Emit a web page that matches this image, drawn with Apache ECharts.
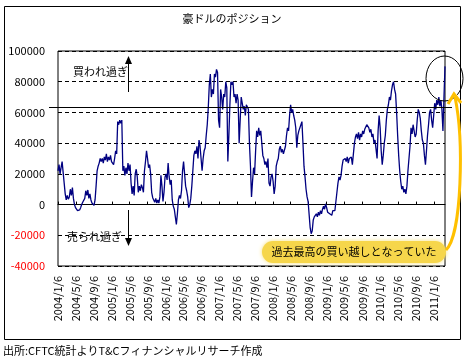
<!DOCTYPE html>
<html><head><meta charset="utf-8">
<script src="https://cdn.jsdelivr.net/npm/echarts@6/dist/echarts.min.js"></script>
<style>html,body{margin:0;padding:0;background:#fff}#c{width:467px;height:360px}</style>
</head><body><div id="c"></div>
<script>
// Weekly CFTC net positions (AUD), first week 2004/1/6
const pos2004 = [22000,26000,20000,24000,28000,21000,14000,7000,3000,6000,3500,5000,10000,6000,11000,4000,0,-2000,-1000,-4000,-5000,-3500,-2000,0,1500,1000,4000,9000,6000,9500,4000,7000,3000,1000,500,-500,3000,12000,22000,25000,27000,30000,28000,30000,27000,31000,29000,33000,28000,31000,29000,32000];
const pos2005 = [28000,29000,26000,30000,35000,33000,54000,52000,55000,53000,55000,22000,25000,19000,24000,20000,27000,22000,26000,14000,7000,12000,6000,20000,23000,18000,8000,12000,9000,13000,11000,8000,22000,28000,35000,30000,24000,26000,20000,8000,4500,3000,1500,4000,1000,3000,1000,5000,19000,12000,2000,8000];
const pos2006 = [18000,20000,16000,27000,18000,13000,16000,3000,-1000,-3000,-8000,-13000,-6000,3000,6000,4000,9000,22000,28000,20000,12000,9000,5000,-2000,0,4000,12000,22000,32000,35000,33000,38000,30000,42000,38000,30000,22000,30000,35000,37000,45000,52000,63000,78000,85000,70000,75000,72000,85000,83000,88000,86000];
const pos2007 = [55000,50000,75000,70000,62000,72000,70000,80000,76000,28000,45000,65000,80000,78000,80000,70000,72000,66000,72000,68000,40000,55000,70000,66000,62000,64000,58000,65000,66000,62000,40000,25000,5000,15000,24000,20000,35000,48000,44000,50000,45000,48000,40000,32000,30000,26000,28000,24000,30000,14000,12000,18000];
const pos2008 = [20000,15000,7000,12000,25000,28000,30000,36000,38000,34000,36000,33000,34000,38000,45000,50000,48000,58000,65000,60000,62000,58000,55000,50000,37000,45000,48000,47000,52000,54000,40000,25000,18000,10000,5000,2000,1000,-15000,-19000,-17000,-10000,-8000,-9000,-6000,-8000,-5000,-7000,-4000,-6000,-3000,-1000,-3000,500];
const pos2009 = [-2000,-5000,-4000,-6000,-5000,-7000,-4000,-3000,-4000,2000,8000,14000,18000,16000,19000,25000,29000,28000,30000,28000,31000,27000,30000,29000,31000,26000,33000,40000,44000,46000,43000,47000,42000,46000,44000,48000,46000,49000,50000,52000,53000,50000,47000,49000,44000,46000,40000,42000,36000,30000,48000,58000];
const pos2010 = [50000,35000,26000,32000,40000,45000,55000,62000,65000,70000,68000,74000,78000,80000,75000,72000,60000,45000,32000,22000,15000,10000,12000,8000,10000,7000,12000,22000,30000,38000,50000,46000,52000,48000,44000,46000,55000,62000,60000,56000,48000,42000,40000,32000,26000,35000,45000,52000,60000,62000,55000,50000];
const pos2011 = [58000,66000,62000,68000,65000,70000,64000,68000,62000,48000,70000,90000];

const tickLabels = ['2004/1/6','2004/5/6','2004/9/6','2005/1/6','2005/5/6','2005/9/6','2006/1/6','2006/5/6','2006/9/6','2007/1/6','2007/5/6','2007/9/6','2008/1/6','2008/5/6','2008/9/6','2009/1/6','2009/5/6','2009/9/6','2010/1/6','2010/5/6','2010/9/6','2011/1/6'];
const yMin = -40000, yMax = 100000, yStep = 20000;
const formerHigh = 63500;

const values = [].concat(pos2004,pos2005,pos2006,pos2007,pos2008,pos2009,pos2010,pos2011);
const DAY = 86400000;
const t0 = Date.UTC(2004,0,6);
const dayOf = (y,m,d) => Math.round((Date.UTC(y,m-1,d)-t0)/DAY);
const dayIdx = values.map((v,i)=>7*i);
const seriesData = values.map((v,i)=>[dayIdx[i], v]);
const tickVals = tickLabels.map(s=>{const p=s.split('/').map(Number);return dayOf(p[0],p[1],p[2]);});
const fmt = v => { const i = tickVals.indexOf(Math.round(v)); return i>=0 ? tickLabels[i] : ''; };

const FONT = '"Noto Sans CJK JP", "Noto Sans", sans-serif';
const chart = echarts.init(document.getElementById('c'), null, {renderer:'canvas'});
const xMin = 0, xMax = dayIdx[dayIdx.length-1];
chart.setOption({
  animation:false,
  backgroundColor:'#fff',
  textStyle:{fontFamily:FONT},
  grid:{left:58, top:51, right:22, bottom:94, show:true, borderColor:'#000', borderWidth:1, backgroundColor:'transparent'},
  xAxis:[{
    type:'value', min:xMin, max:xMax, position:'bottom',
    axisLine:{show:false, onZero:false}, axisTick:{show:false}, splitLine:{show:false},
    axisLabel:{customValues:tickVals, formatter:fmt, rotate:90, margin:10, fontSize:11, color:'#000', fontFamily:FONT, hideOverlap:false, showMinLabel:true, showMaxLabel:true}
  },{
    type:'value', min:xMin, max:xMax, position:'bottom',
    axisLine:{show:true, onZero:true, lineStyle:{color:'#000', width:1}},
    axisTick:{show:true, inside:true, length:3, customValues:tickVals, lineStyle:{color:'#000'}},
    axisLabel:{show:false}, splitLine:{show:false}
  }],
  yAxis:{
    type:'value', min:yMin, max:yMax, interval:yStep,
    axisLine:{show:false}, axisTick:{show:false},
    splitLine:{show:true, lineStyle:{color:'#000', type:[4,3], width:1}},
    axisLabel:{margin:13, fontSize:11, fontFamily:FONT, formatter:v=>String(v), color:(v)=>Number(v)<0?'#FF0000':'#000'}
  },
  series:[{
    type:'line', data:seriesData, xAxisIndex:1, showSymbol:false, symbol:'none',
    lineStyle:{color:'#000080', width:1.3}, z:3
  }]
});

const yHigh = chart.convertToPixel({yAxisIndex:0}, formerHigh);
chart.setOption({graphic:[
  {type:'rect', shape:{x:4.5,y:6.5,width:456,height:333}, style:{fill:null, stroke:'#000', lineWidth:1}, silent:true},
  {type:'text', x:232, y:19, style:{text:'豪ドルのポジション', font:'11px '+FONT, fill:'#000', align:'center', verticalAlign:'middle'}},
  {type:'line', shape:{x1:49, y1:Math.round(yHigh)+0.5, x2:452, y2:Math.round(yHigh)+0.5}, style:{stroke:'#000', lineWidth:1}, z:10},
  {type:'line', shape:{x1:128.5, y1:92, x2:128.5, y2:62}, style:{stroke:'#000', lineWidth:1}, z:10},
  {type:'polygon', shape:{points:[[128.5,56],[125,64],[132,64]]}, style:{fill:'#000'}, z:10},
  {type:'text', x:73, y:72, style:{text:'買われ過ぎ', font:'11px '+FONT, fill:'#000', verticalAlign:'middle'}, z:10},
  {type:'line', shape:{x1:128.5, y1:210, x2:128.5, y2:240}, style:{stroke:'#000', lineWidth:1}, z:10},
  {type:'polygon', shape:{points:[[128.5,246],[125,238],[132,238]]}, style:{fill:'#000'}, z:10},
  {type:'text', x:67, y:237, style:{text:'売られ過ぎ', font:'11px '+FONT, fill:'#000', verticalAlign:'middle'}, z:10},
  {type:'ellipse', shape:{cx:444.5, cy:78.5, rx:18.5, ry:22.5}, style:{fill:null, stroke:'#000', lineWidth:1}, z:10},
  {type:'rect', shape:{x:262, y:241, width:184, height:22, r:11}, style:{fill:'#F6D64B', shadowBlur:4, shadowColor:'#F8E27A'}, z:10},
  {type:'text', x:354, y:252, style:{text:'過去最高の買い越しとなっていた', font:'11px '+FONT, fill:'#000', align:'center', verticalAlign:'middle'}, z:11},
  {type:'bezierCurve', shape:{x1:446, y1:250, cpx1:462, cpy1:235, cpx2:464, cpy2:140, x2:455, y2:97}, style:{stroke:'#FFC000', lineWidth:3, fill:null}, z:10},
  {type:'polyline', shape:{points:[[448,104],[454,94],[461,103]]}, style:{stroke:'#FFC000', lineWidth:3, fill:null}, z:10},
  {type:'text', x:3, y:351, style:{text:'出所:CFTC統計よりT&Cフィナンシャルリサーチ作成', font:'11px '+FONT, fill:'#000', verticalAlign:'middle'}, z:10}
]});
</script></body></html>
